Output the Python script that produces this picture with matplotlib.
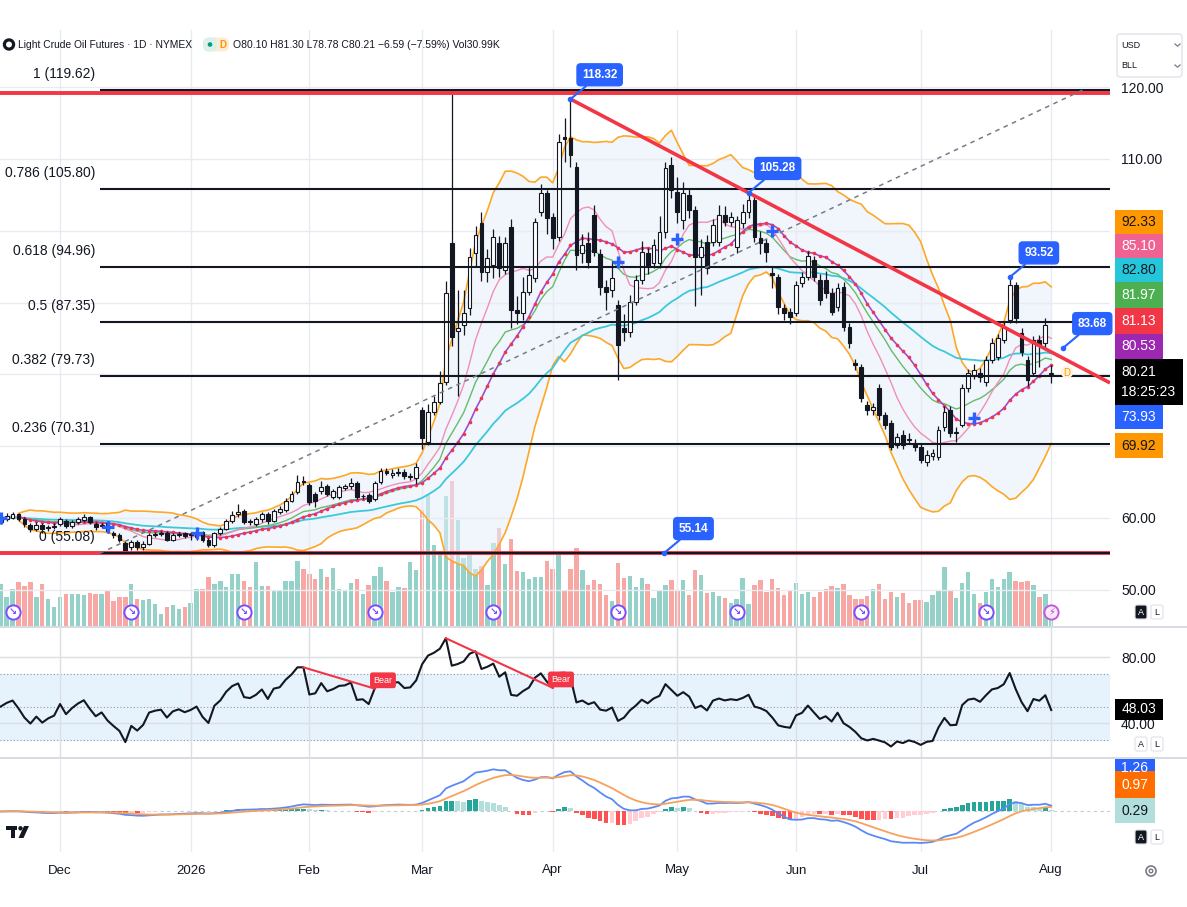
import numpy as np
import pandas as pd
import matplotlib
matplotlib.use("Agg")
import matplotlib.pyplot as plt
from matplotlib.patches import Rectangle, FancyBboxPatch, Circle, Polygon
from matplotlib.transforms import blended_transform_factory
from matplotlib.ticker import FuncFormatter, FixedLocator

plt.rcParams['font.family'] = ['Liberation Sans', 'DejaVu Sans']
W, H = 1187, 907
TXT = '#131722'

# ---------------- data (daily bars, 2025-11-14 .. 2026-08-03) ----------------
opens = [
    59.4, 59.9, 60.0, 60.5, 59.9, 59.0, 58.5, 59.0, 58.6, 58.8,
    59.2, 59.6, 58.9, 59.4, 59.7, 60.1, 59.2, 58.9, 59.3, 57.9, 57.6, 56.5, 55.9, 56.6, 55.9, 56.4, 57.6, 57.8, 57.9, 57.0, 57.6, 57.9,
    57.6, 57.3, 58.0, 57.0, 56.3, 57.9, 58.5, 59.6, 60.5, 61.0, 59.5, 59.2, 59.8, 60.5, 59.6, 60.9, 61.1, 62.4, 63.6, 65.1,
    64.6, 63.3, 63.7, 64.5, 62.9, 62.9, 64.2, 64.4, 64.9, 63.0, 63.2, 62.6, 65.0, 66.6, 66.0, 66.2, 66.4, 65.7, 65.5,
    75.0, 70.6, 74.8, 76.2, 78.9, 98.3, 86.0, 86.9, 89.2, 96.9, 101.1, 94.2, 95.2, 98.3, 94.5, 100.5, 89.0, 88.6, 91.5, 93.4, 102.6, 105.2,
    101.9, 99.1, 113.0, 112.9, 108.9, 96.9, 98.3, 102.2, 96.8, 92.2, 91.7, 89.7, 86.5, 85.9, 90.1, 93.1, 96.9, 95.5, 95.5, 99.8, 109.1,
    105.4, 101.5, 105.0, 102.9, 96.3, 98.4, 98.4, 98.4, 102.2, 101.2, 97.7, 101.0, 102.6, 104.3, 99.0, 98.3, 94.1, 93.5, 89.2, 88.7,
    88.5, 92.7, 93.5, 95.9, 93.1, 93.1, 91.3, 89.4, 92.2, 86.6, 81.6, 81.0, 75.7, 75.0, 78.1, 74.3, 73.2, 70.2, 71.6, 71.0, 70.4,
    69.9, 67.8, 68.6, 68.5, 72.6, 75.0, 71.8, 73.0, 78.1, 79.9, 80.2, 78.9, 82.0, 82.4, 84.8, 87.6, 92.4, 85.8, 82.0, 80.2, 84.8, 84.4,
    80.10]
highs = [
    60.4, 60.7, 60.9, 60.7, 60.1, 59.3, 59.4, 59.3, 59.0, 59.3,
    60.1, 59.9, 59.7, 60.2, 60.5, 60.3, 59.5, 59.3, 59.6, 58.2, 57.9, 56.8, 56.9, 56.9, 56.8, 57.9, 58.1, 58.2, 58.2, 57.9, 58.1, 58.1,
    58.0, 58.3, 58.2, 57.2, 58.1, 58.8, 59.9, 61.0, 61.9, 61.2, 59.8, 60.1, 60.8, 60.8, 61.3, 61.6, 62.8, 63.8, 66.0, 65.8,
    64.9, 63.6, 65.2, 64.8, 64.0, 64.6, 64.8, 65.6, 65.2, 63.4, 63.5, 65.2, 66.9, 67.0, 66.8, 66.9, 66.8, 66.3, 67.6,
    75.4, 75.8, 77.0, 80.4, 93.0, 119.62, 91.7, 91.8, 97.6, 100.6, 102.6, 97.5, 100.3, 99.3, 99.1, 101.6, 90.9, 93.6, 95.1, 101.8, 106.5, 105.6,
    102.5, 113.5, 115.7, 118.32, 109.6, 99.5, 99.8, 103.6, 97.5, 93.2, 95.8, 90.4, 88.4, 91.0, 93.8, 98.6, 97.6, 98.9, 102.0, 109.5, 110.3,
    107.5, 106.8, 105.8, 103.5, 98.9, 99.4, 101.6, 103.6, 103.5, 102.6, 102.0, 103.7, 105.28, 104.8, 99.9, 98.9, 95.0, 94.0, 89.8, 89.2,
    93.0, 94.2, 97.2, 96.5, 94.0, 94.4, 92.0, 92.7, 92.8, 87.2, 82.1, 81.4, 76.3, 76.0, 78.6, 74.8, 73.6, 71.9, 72.2, 71.8, 71.0,
    70.4, 69.4, 69.6, 72.8, 75.6, 75.6, 72.6, 78.7, 80.8, 81.4, 80.9, 82.5, 85.1, 85.6, 87.3, 93.52, 92.9, 86.4, 82.6, 85.4, 85.5, 87.9,
    81.30]
lows = [
    59.1, 59.6, 59.8, 59.6, 58.8, 58.1, 58.2, 57.9, 58.2, 58.4,
    58.9, 58.6, 58.6, 59.1, 59.4, 59.1, 58.3, 58.6, 57.9, 57.2, 56.6, 55.0, 55.5, 55.6, 55.6, 56.2, 57.3, 57.5, 56.8, 56.8, 57.3, 57.2,
    57.0, 57.0, 56.7, 55.9, 56.0, 57.6, 58.3, 59.3, 60.1, 59.2, 59.0, 58.9, 59.5, 59.2, 59.4, 60.6, 60.9, 62.2, 63.3, 64.6,
    61.8, 61.5, 63.4, 63.0, 62.6, 62.6, 63.9, 64.1, 62.6, 62.6, 62.1, 62.3, 64.7, 66.0, 65.6, 65.9, 65.4, 65.3, 64.8,
    69.6, 70.2, 74.4, 75.8, 78.5, 84.0, 77.0, 85.5, 88.3, 95.0, 93.0, 92.8, 93.4, 93.5, 93.9, 86.5, 87.0, 87.6, 91.0, 92.8, 102.0, 99.5,
    97.5, 98.6, 109.5, 108.8, 94.5, 95.5, 94.8, 96.5, 91.0, 89.0, 90.8, 79.2, 84.6, 85.2, 89.6, 92.6, 94.0, 94.8, 94.8, 99.0, 104.5,
    101.0, 100.2, 101.8, 89.5, 91.0, 94.0, 97.8, 97.9, 100.6, 100.6, 96.9, 100.4, 101.8, 98.4, 96.8, 95.7, 92.0, 88.4, 87.6, 87.0,
    88.1, 92.2, 93.2, 93.0, 89.6, 90.6, 88.2, 88.8, 86.0, 83.6, 80.6, 76.2, 74.4, 74.4, 73.7, 72.4, 69.4, 69.7, 69.6, 70.3, 69.3,
    67.6, 67.2, 68.1, 68.1, 72.1, 71.3, 70.6, 72.6, 77.6, 79.3, 79.0, 78.4, 81.6, 82.0, 84.3, 87.1, 87.2, 82.6, 78.4, 79.8, 81.0, 83.6,
    78.78]
closes = [
    60.0, 60.3, 60.5, 59.9, 59.1, 58.5, 59.0, 58.4, 58.7, 58.9,
    59.8, 58.9, 59.4, 59.8, 60.1, 59.4, 58.7, 59.0, 58.2, 57.6, 57.0, 55.3, 56.6, 55.9, 56.4, 57.6, 57.8, 57.9, 57.0, 57.6, 57.8, 57.5,
    57.7, 58.0, 57.0, 56.3, 57.9, 58.5, 59.6, 60.4, 60.8, 59.5, 59.4, 59.8, 60.5, 59.6, 61.0, 61.2, 62.4, 63.4, 65.0, 65.0,
    62.2, 62.4, 64.3, 63.3, 63.7, 64.3, 64.4, 64.9, 62.9, 63.0, 62.4, 64.9, 66.5, 66.3, 66.3, 66.4, 65.8, 65.9, 67.1,
    71.1, 74.7, 76.2, 78.8, 91.3, 85.2, 86.5, 88.6, 96.3, 99.4, 94.2, 96.2, 99.1, 94.8, 98.3, 89.0, 88.6, 91.5, 93.8, 101.2, 105.2, 101.8,
    99.0, 112.3, 112.8, 110.5, 96.6, 98.0, 95.6, 97.0, 92.2, 91.5, 93.4, 84.1, 85.9, 90.1, 93.1, 97.0, 94.9, 98.0, 99.8, 108.7, 105.7,
    102.6, 105.2, 102.9, 96.3, 97.7, 94.8, 100.8, 102.2, 101.2, 101.9, 101.5, 102.6, 104.3, 99.1, 98.3, 97.0, 93.8, 89.4, 88.5, 88.0,
    92.5, 93.5, 96.5, 93.5, 90.3, 91.3, 88.7, 92.0, 86.6, 84.4, 81.3, 76.7, 75.0, 75.5, 74.3, 73.0, 69.9, 71.3, 70.2, 70.9, 69.9,
    68.1, 68.8, 69.0, 72.2, 74.8, 71.8, 71.9, 78.1, 80.2, 80.6, 79.6, 82.0, 84.4, 85.0, 86.6, 92.4, 87.8, 83.1, 79.2, 84.8, 84.1, 86.8,
    80.21]
volumes_k = [
    63, 44, 56, 66, 60, 66, 44, 63, 41, 29,
    44, 48, 48, 48, 47, 50, 48, 48, 53, 38, 44, 44, 63, 41, 39, 41, 33, 18, 29, 32, 26, 29,
    35, 56, 56, 74, 63, 68, 59, 78, 78, 68, 59, 96, 60, 60, 53, 53, 68, 68,
    98, 86, 78, 71, 86, 74, 87, 56, 53, 65, 71, 48, 62, 75, 89, 68, 51, 59, 57, 96, 84,
    174, 198, 122, 110, 195, 218, 159, 102, 110, 86, 90, 62, 125, 147, 93, 131, 83, 81, 71, 74, 74, 98,
    86, 110, 54, 86, 117, 84, 62, 69, 63, 47, 38, 95, 72, 75, 59, 72, 63, 42, 54, 62, 69,
    53, 69, 47, 84, 77, 50, 51, 45, 42, 35, 41, 72, 33, 62, 69, 51, 71, 57, 47, 53,
    65, 48, 51, 44, 51, 56, 60, 57, 63, 47, 41, 41, 45, 56, 63, 41, 51, 44, 50, 35, 39,
    39, 36, 47, 53, 89, 53, 42, 65, 81, 48, 35, 51, 71, 59, 71, 81, 68, 66, 68, 62, 44, 48,
    30.99]

holidays = ['2025-11-27', '2025-12-25', '2026-01-01', '2026-01-19', '2026-02-16',
            '2026-04-03', '2026-05-25', '2026-06-19', '2026-07-03']
month_starts = ['2025-12-01', '2026-01-01', '2026-02-01', '2026-03-01', '2026-04-01',
                '2026-05-01', '2026-06-01', '2026-07-01', '2026-08-01']
month_labels = ['Dec', '2026', 'Feb', 'Mar', 'Apr', 'May', 'Jun', 'Jul', 'Aug']
price_ticks = [50, 60, 70, 80, 90, 100, 110, 120]
price_labels_shown = [50, 60, 110, 120]

fib_ratios = ['1', '0.786', '0.618', '0.5', '0.382', '0.236', '0']
fib_prices = [119.62, 105.80, 94.96, 87.35, 79.73, 70.31, 55.08]
red_levels = [119.15, 55.14]
trend_bars = [96, 126]
trend_prices = [118.32, 105.28]
callout_bars = [96, 126, 170, 179.0, 111.8]
callout_prices = [118.32, 105.28, 93.52, 83.68, 55.14]
cross_bars = [0, 18, 33, 104, 114, 130, 164]
cross_prices = [60.0, 58.7, 57.9, 95.6, 98.8, 99.9, 73.93]
event_bars = [2, 22, 41, 63, 83, 104, 124, 145, 166]
bear_pairs = [(51, 63), (75, 93)]

tag_values = ['92.33', '85.10', '82.80', '81.97', '81.13', '80.53', '80.21', '73.93', '69.92']
tag_colors = ['#ff9800', '#f06292', '#26c6da', '#4caf50', '#f23645', '#9c27b0', '#000000', '#2962ff', '#ff9800']
tag_text_colors = [TXT, 'white', TXT, 'white', 'white', 'white', 'white', 'white', TXT]
rsi_tag = '48.03'
macd_tags = ['1.26', '0.97', '0.29']

# ---------------- derived ----------------
n = len(closes)
dates = pd.bdate_range('2025-11-14', '2026-08-03')
dates = dates[~dates.isin(pd.to_datetime(holidays))]
month_idx = [int(dates.searchsorted(pd.Timestamp(m))) for m in month_starts]
x = np.arange(n)
o = np.array(opens); hi = np.array(highs); lo = np.array(lows); c = np.array(closes)
up = c >= o

cs = pd.Series(c)
sma10 = cs.rolling(10, min_periods=1).mean()
sma20 = cs.rolling(20, min_periods=4).mean()
sd20 = cs.rolling(20, min_periods=4).std(ddof=0)
bb_up = sma20 + 2 * sd20
bb_lo = sma20 - 2 * sd20
ema20 = cs.ewm(span=20, adjust=False).mean()
ema50 = cs.ewm(span=50, adjust=False).mean()

# RSI (Wilder 14), seeded neutrally with the mean absolute change of the first bars
d = np.diff(c, prepend=c[0])
seed = np.mean(np.abs(d[1:15])) / 2
ag = np.empty(n); al = np.empty(n)
ag[0] = al[0] = seed
for i in range(1, n):
    ag[i] = (ag[i - 1] * 13 + max(d[i], 0)) / 14
    al[i] = (al[i - 1] * 13 + max(-d[i], 0)) / 14
rsi = 100 - 100 / (1 + ag / al)

macd = cs.ewm(span=12, adjust=False).mean() - cs.ewm(span=26, adjust=False).mean()
signal = macd.ewm(span=9, adjust=False).mean()
hist = macd - signal
prev = hist.shift(1).fillna(0)
hist_cols = np.where(hist >= 0, np.where(hist >= prev, '#26a69a', '#b2dfdb'),
                     np.where(hist < prev, '#ff5252', '#ffcdd2'))

# ---------------- figure ----------------
fig = plt.figure(figsize=(W / 100, H / 100), dpi=100)
fig.patch.set_facecolor('white')

def frect(x0, y0, x1, y1):
    return [x0 / W, 1 - y1 / H, (x1 - x0) / W, (y1 - y0) / H]

PR = 1110
XL = (-0.12, 186.9)
ax = fig.add_axes(frect(0, 30, PR, 626))
vax = ax.twinx()
vax.set_zorder(ax.get_zorder() - 1)
ax.patch.set_visible(False)
vax.patch.set_visible(False)
rax = fig.add_axes(frect(0, 628, PR, 757), sharex=ax)
mx = fig.add_axes(frect(0, 759, PR, 852), sharex=ax)

for a in (ax, vax, rax, mx):
    for s in a.spines.values():
        s.set_visible(False)

# volume
vcols = np.where(up, '#93d1c9', '#f7a8a5')
vax.bar(x, volumes_k, width=0.74, color=vcols, zorder=1)
vax.set_ylim(0, 894)
vax.set_yticks([])

# main price panel
ax.yaxis.tick_right()
ax.set_xticks(month_idx)
ax.set_yticks(price_ticks)
ax.yaxis.set_major_formatter(FuncFormatter(lambda v, p: f'{v:.2f}' if round(v) in price_labels_shown else ''))
ax.grid(True, color='#e9ebf0', lw=1)
ax.tick_params(axis='both', length=0)
ax.tick_params(axis='y', labelright=True, labelleft=False, pad=8, labelsize=10, labelcolor=TXT)
ax.tick_params(axis='x', labelbottom=False)

ax.fill_between(x, bb_lo, bb_up, color='#e4f0fb', alpha=0.55, lw=0, zorder=1)
ax.plot(x, bb_up, color='#ffa726', lw=1.2, zorder=2)
ax.plot(x, bb_lo, color='#ffa726', lw=1.2, zorder=2)
ax.plot(x, ema50, color='#3cc8dc', lw=1.3, zorder=2.2)
ax.plot(x, ema20, color='#66bb6a', lw=1.0, zorder=2.3)
ax.plot(x, sma10, color='#f08fb6', lw=1.0, zorder=2.4)
ax.plot(x, sma20, color='#a24bd0', lw=1.2, zorder=2.5)
ax.plot(x, sma20, ls='none', marker='o', ms=1.6, color='#f23645', zorder=2.6)

# fib labels (under candles)
for r, p in zip(fib_ratios, fib_prices):
    ax.annotate(f'{r} ({p:.2f})', xy=(15.9, p), xytext=(0, 11.5), textcoords='offset points',
                ha='right', va='center', fontsize=10, color=TXT, zorder=3.5)

# candles
ax.vlines(x, lo, hi, color=TXT, lw=0.9, zorder=4)
bb = np.minimum(o, c)
bh = np.maximum(np.abs(c - o), 0.12)
ax.bar(x[up], bh[up], bottom=bb[up], width=0.64, color='white', edgecolor=TXT, linewidth=0.8, zorder=4.5)
ax.bar(x[~up], bh[~up], bottom=bb[~up], width=0.64, color=TXT, edgecolor=TXT, linewidth=0.8, zorder=4.5)

# blue crosses
ax.plot(cross_bars, cross_prices, ls='none', marker='+', ms=8, mew=2.4, color='#2962ff', zorder=5.5)

# drawings
for lv in red_levels:
    ax.axhline(lv, color='#f23645', lw=2.8, zorder=5)
FIB_X0 = 16.7
ax.hlines(fib_prices, FIB_X0, XL[1], color=TXT, lw=1.5, zorder=5.2)
ax.plot([FIB_X0, 182.4], [fib_prices[-1], fib_prices[0]], ls=(0, (3, 3)), color='#787b86', lw=1.1, zorder=5.3)
slope = (trend_prices[1] - trend_prices[0]) / (trend_bars[1] - trend_bars[0])
ax.plot([trend_bars[0], XL[1]], [trend_prices[0], trend_prices[0] + slope * (XL[1] - trend_bars[0])],
        color='#f23645', lw=2.6, zorder=6, solid_capstyle='butt')

for bxi, pyi in zip(callout_bars, callout_prices):
    ax.plot(bxi, pyi, 'o', ms=3, color='#2962ff', zorder=7)
    ax.annotate(f'{pyi:.2f}', xy=(bxi, pyi), xytext=(21, 17.5), textcoords='offset points',
                ha='center', va='center', fontsize=8.5, color='white', fontweight='bold',
                bbox=dict(boxstyle='round,pad=0.42,rounding_size=0.3', fc='#2962ff', ec='#2962ff'),
                arrowprops=dict(arrowstyle='-', color='#2962ff', lw=1.5, shrinkA=0, shrinkB=0),
                zorder=7)

# event icons on volume area
trans = blended_transform_factory(ax.transData, ax.transAxes)
ax.scatter(event_bars, [0.024] * len(event_bars), s=105, facecolor='white', edgecolor='#7c4dff',
           lw=1.4, transform=trans, zorder=8)
for eb in event_bars:
    ax.text(eb, 0.024, '↘', transform=trans, ha='center', va='center', fontsize=7,
            color='#7c4dff', fontweight='bold', zorder=9, family=['DejaVu Sans'])
ax.scatter([n - 1], [0.024], s=105, facecolor='#fbe9fb', edgecolor='#c05ad8', lw=1.4, transform=trans, zorder=8)
ax.text(n - 1, 0.024, '⚡', transform=trans, ha='center', va='center', fontsize=7, color='#b545d0',
        zorder=9, family=['DejaVu Sans'])

ax.set_xlim(*XL)
ax.set_ylim(44.96, 127.94)

# RSI panel
rax.axhspan(30, 70, color='#e6f2fc', zorder=0)
for v in (70, 50, 30):
    rax.axhline(v, color='#9598a1', lw=0.8, ls=(0, (1, 2)), zorder=1)
rax.plot(x, rsi, color=TXT, lw=1.5, zorder=3)
for b0, b1 in bear_pairs:
    rax.plot([b0, b1], [rsi[b0], rsi[b1]], color='#f23645', lw=1.5, zorder=4)
    rax.annotate('Bear', xy=(b1, rsi[b1]), xytext=(6, 6), textcoords='offset points', ha='center',
                 va='center', fontsize=6.5, color='white',
                 bbox=dict(boxstyle='round,pad=0.3,rounding_size=0.2', fc='#f23645', ec='#f23645'), zorder=5)
rax.yaxis.tick_right()
rax.set_yticks([40, 80])
rax.yaxis.set_major_formatter(FuncFormatter(lambda v, p: f'{v:.2f}'))
rax.grid(True, color='#dcdee5', lw=1)
rax.tick_params(axis='both', length=0)
rax.tick_params(axis='y', pad=8, labelsize=10, labelcolor=TXT)
rax.tick_params(axis='x', labelbottom=False)
rax.set_ylim(19.4, 97.6)

# MACD panel
mx.axhline(0, color='#c8cad2', lw=0.8, ls=(0, (3, 3)), zorder=1)
mx.bar(x, hist, width=0.78, color=hist_cols, zorder=2)
mx.plot(x, macd, color='#5b8af5', lw=1.3, zorder=3)
mx.plot(x, signal, color='#f7a25c', lw=1.3, zorder=3)
mx.set_yticks([])
mx.grid(True, axis='x', color='#e9ebf0', lw=1)
mx.tick_params(axis='both', length=0)
mx.set_xticks(month_idx)
mx.set_xticklabels(month_labels)
mx.tick_params(axis='x', pad=9, labelsize=9.5, labelcolor=TXT)
mx.set_ylim(-8.5, 11)
mx.set_xlim(*XL)

# ---------------- overlay (screen decorations) ----------------
ov = fig.add_axes([0, 0, 1, 1], zorder=20)
ov.set_xlim(0, W)
ov.set_ylim(H, 0)
ov.axis('off')
ov.patch.set_visible(False)

ov.plot([0, W], [627, 627], color='#d1d4dc', lw=1.2)
ov.plot([0, W], [758, 758], color='#d1d4dc', lw=1.2)

# header
ov.add_patch(Circle((9, 44.5), 4.6, fc='none', ec=TXT, lw=2.3))
ov.text(18, 44.5, 'Light Crude Oil Futures · 1D · NYMEX', fontsize=7.4, va='center', color=TXT)
ov.add_patch(FancyBboxPatch((203, 37.5), 26, 14, boxstyle='round,pad=0,rounding_size=6', fc='#fdebd6', ec='none'))
ov.add_patch(FancyBboxPatch((203, 37.5), 14, 14, boxstyle='round,pad=0,rounding_size=6', fc='#dcf1ec', ec='none'))
ov.add_patch(Circle((210, 44.5), 2.3, fc='#089981', ec='none'))
ov.text(222.5, 44.8, 'D', fontsize=7, color='#ff9800', ha='center', va='center', fontweight='bold')
chg = closes[-1] - closes[-2]
pct = chg / closes[-2] * 100
ohlc = (f'O{opens[-1]:.2f} H{highs[-1]:.2f} L{lows[-1]:.2f} C{closes[-1]:.2f} '
        f'\u2212{abs(chg):.2f} (\u2212{abs(pct):.2f}%) Vol{volumes_k[-1]:.2f}K')
ov.text(233, 44.5, ohlc, fontsize=7.5, va='center', color=TXT)

# currency / unit box
ov.add_patch(FancyBboxPatch((1117, 34), 65, 43, boxstyle='round,pad=0,rounding_size=3', fc='white', ec='#e0e3eb', lw=1))
ov.text(1121, 45, 'USD', fontsize=6.5, va='center', color=TXT)
ov.text(1121, 66, 'BLL', fontsize=6.5, va='center', color=TXT)
for yy in (45, 66):
    ov.plot([1175, 1177.5, 1180], [yy - 1, yy + 1.2, yy - 1], color='#787b86', lw=0.9)

# price tags
tag_rows = [(210, 234), (234, 258), (258, 282), (282, 308), (308, 334), (334, 359), (359, 405), (405, 429), (433, 458)]
for (y0, y1), val, bg, fg in zip(tag_rows, tag_values, tag_colors, tag_text_colors):
    if val == '80.21':
        ov.add_patch(Rectangle((1115, y0), 68, y1 - y0, fc=bg, ec='none', zorder=5))
        ov.text(1121, 372, val, ha='left', va='center', fontsize=10, color=fg, zorder=6)
        ov.text(1121, 392, '18:25:23', ha='left', va='center', fontsize=10, color=fg, zorder=6)
    else:
        ov.add_patch(Rectangle((1115, y0), 48, y1 - y0, fc=bg, ec='none', zorder=5))
        ov.text(1139, (y0 + y1) / 2, val, ha='center', va='center', fontsize=10, color=fg, zorder=6)
ov.add_patch(FancyBboxPatch((1061, 366), 12, 12, boxstyle='round,pad=0,rounding_size=6', fc='#fff3e0', ec='none'))
ov.text(1067, 372.5, 'D', ha='center', va='center', fontsize=7, color='#ff9800')

# RSI tag
ov.add_patch(Rectangle((1115, 699), 48, 21, fc='black', ec='none', zorder=5))
ov.text(1139, 709, rsi_tag, ha='center', va='center', fontsize=10, color='white', zorder=6)

# MACD tags
clip = Rectangle((1115, 759), 40, 12, fc='#2962ff', ec='none', zorder=5)
ov.add_patch(clip)
t = ov.text(1135, 768, macd_tags[0], ha='center', va='center', fontsize=10, color='white', zorder=6)
t.set_clip_path(clip)
ov.add_patch(Rectangle((1115, 771), 40, 27, fc='#ff6d00', ec='none', zorder=5))
ov.text(1135, 785, macd_tags[1], ha='center', va='center', fontsize=10, color='white', zorder=6)
ov.add_patch(Rectangle((1115, 798), 40, 25, fc='#b2dfdb', ec='none', zorder=5))
ov.text(1135, 811, macd_tags[2], ha='center', va='center', fontsize=10, color=TXT, zorder=6)

# A / L buttons
def btn(xx, yy, txt, dark):
    ov.add_patch(FancyBboxPatch((xx, yy), 12, 14, boxstyle='round,pad=0,rounding_size=2',
                                fc=TXT if dark else 'white', ec='#dfe1e7', lw=0.8, zorder=5))
    ov.text(xx + 6, yy + 7.3, txt, ha='center', va='center', fontsize=6.5,
            color='white' if dark else TXT, zorder=6)

btn(1135, 605, 'A', True); btn(1151, 605, 'L', False)
btn(1135, 737, 'A', False); btn(1151, 737, 'L', False)
btn(1135, 830, 'A', True); btn(1151, 830, 'L', False)

# gear
ov.add_patch(Circle((1151, 871), 5, fc='none', ec='#787b86', lw=1.2))
ov.add_patch(Circle((1151, 871), 1.8, fc='none', ec='#787b86', lw=1.0))

# logo
ov.add_patch(Rectangle((6, 826), 11, 4, fc=TXT, ec='none'))
ov.add_patch(Rectangle((10.5, 826), 4, 12, fc=TXT, ec='none'))
ov.add_patch(Circle((20.5, 828.3), 2.2, fc=TXT, ec='none'))
ov.add_patch(Polygon([[24, 826], [29, 826], [23.5, 838], [18.5, 838]], closed=True, fc=TXT, ec='none'))

fig.savefig('out.png', dpi=100, facecolor='white')
